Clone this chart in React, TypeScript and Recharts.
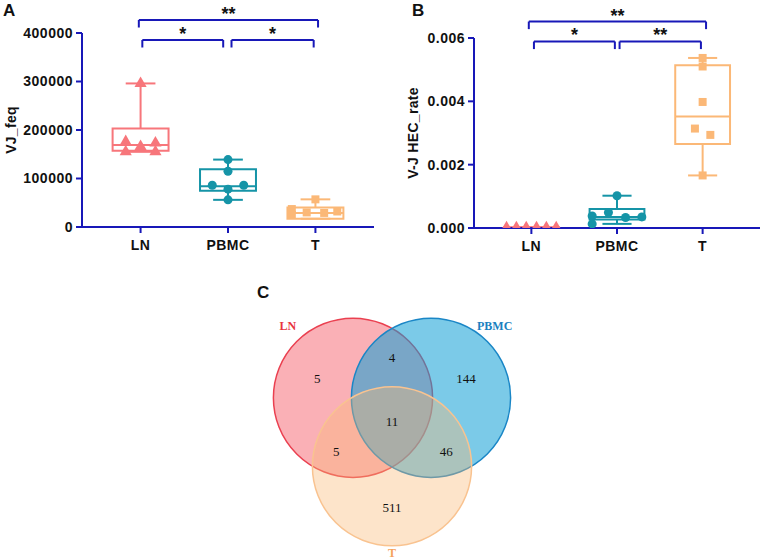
import React from 'react';
import { ScatterChart, Scatter, XAxis, YAxis, ZAxis, ReferenceArea, ReferenceLine, Label } from 'recharts';

const groups = ['LN', 'PBMC', 'T'];

// panel A: VJ_feq
const feqLN = [296000, 176000, 173000, 166000, 155000, 155000];
const feqPBMC = [139000, 115000, 86000, 86000, 78000, 56000];
const feqT = [57000, 37000, 32000, 30000, 29000, 25000];
const feqLNx = [0, -0.17, 0.17, 0, -0.17, 0.17];
const feqPBMCx = [0, 0, -0.18, 0.18, 0, 0];
const feqTx = [0, -0.27, 0.25, -0.1, 0.1, -0.27];
// min, q1, median, q3, max
const feqBoxLN = [155000, 157000, 169000, 203000, 296000];
const feqBoxPBMC = [56000, 75000, 84000, 119000, 139000];
const feqBoxT = [17000, 17000, 29000, 40000, 57000];
const feqTicks = [0, 100000, 200000, 300000, 400000];
const feqBracketFrom = [-0.02, 0.02, 1.04];
const feqBracketTo = [2.03, 0.945, 1.98];
const feqBracketLevel = [426800, 385600, 385600];
const feqStars = ['**', '*', '*'];

// panel B: V-J HEC_rate
const rateLN = [0.00001, 0.00001, 0.00001, 0.00001, 0.00001, 0.00001];
const ratePBMC = [0.00102, 0.00049, 0.00038, 0.00033, 0.00035, 0.00013];
const rateT = [0.00537, 0.0051, 0.00398, 0.00314, 0.00294, 0.00166];
const rateLNx = [-0.29, -0.175, -0.06, 0.06, 0.175, 0.29];
const ratePBMCx = [0, -0.1, -0.29, 0.1, 0.29, -0.29];
const rateTx = [0, 0, 0, -0.09, 0.09, 0];
const rateBoxLN = [0, 0, 0.00001, 0.00002, 0.00002];
const rateBoxPBMC = [0.00013, 0.00027, 0.00035, 0.0006, 0.00102];
const rateBoxT = [0.00166, 0.00265, 0.00352, 0.00514, 0.00537];
const rateTicks = [0, 0.002, 0.004, 0.006];
const rateBracketFrom = [-0.03, 0.03, 1.03];
const rateBracketTo = [2.04, 0.975, 1.98];
const rateBracketLevel = [0.00652, 0.00589, 0.00589];
const rateStars = ['**', '*', '**'];

// panel C: venn
const vennSets = ['LN', 'PBMC', 'T'];
const vennCx = [-0.49, 0.49, 0];
const vennCy = [0.43, 0.43, -0.43];
const vennR = [1, 1, 1];
const vennNameX = [-1.31, 1.29, 0];
const vennNameY = [1.33, 1.33, -1.52];
const vennCounts = ['5', '4', '144', '11', '5', '46', '511'];
const vennCountX = [-0.94, 0, 0.93, 0, -0.7, 0.68, 0];
const vennCountY = [0.67, 0.94, 0.67, 0.13, -0.25, -0.25, -0.95];

const AXIS = '#1818b8';
const colors = ['#f7767b', '#1594a7', '#fbb877'];
const shapes = ['triangle', 'circle', 'square'];
const vennFill = ['#f5707a', '#0f9fd6', '#fbb874'];
const vennOpacity = [0.55, 0.55, 0.38];
const vennStroke = ['#ea4050', '#1a86c6', '#f9c390'];
const vennText = ['#e8343f', '#1a7fc0', '#f5a25c'];

const sans = '"Liberation Sans", Arial, sans-serif';
const serif = '"Liberation Serif", "Times New Roman", serif';
const tickStyle = { fill: '#111', fontSize: 14, fontWeight: 'bold', letterSpacing: 0.5 };

type PanelProps = {
  w: number; h: number; top: number; right: number; yAxisW: number; xAxisH: number;
  yMax: number; yTicks: number[]; fmt: (v: number) => string; yLabel: string; labelOffset: number;
  values: number[][]; offsets: number[][]; boxes: number[][];
  bFrom: number[]; bTo: number[]; bLevel: number[]; stars: string[]; drop: number;
};

function BoxPanel(p: PanelProps) {
  const half = 0.32;
  const cap = 0.17;
  return (
    <ScatterChart width={p.w} height={p.h} margin={{ top: p.top, right: p.right, left: 0, bottom: 0 }}>
      <XAxis type="number" dataKey="x" domain={[-0.67, 2.67]} ticks={[0, 1, 2]} allowDataOverflow
        tickFormatter={(v) => groups[Math.round(v)]} height={p.xAxisH}
        axisLine={{ stroke: AXIS, strokeWidth: 2 }} tickLine={{ stroke: AXIS, strokeWidth: 2 }}
        tickSize={6} tickMargin={7} tick={tickStyle} />
      <YAxis type="number" dataKey="y" domain={[0, p.yMax]} ticks={p.yTicks} allowDataOverflow
        tickFormatter={p.fmt} width={p.yAxisW}
        axisLine={{ stroke: AXIS, strokeWidth: 2 }} tickLine={{ stroke: AXIS, strokeWidth: 2 }}
        tickSize={6} tickMargin={3} tick={tickStyle}>
        <Label value={p.yLabel} angle={-90} position="insideLeft" offset={p.labelOffset}
          style={{ textAnchor: 'middle', fill: '#111', fontSize: 14, fontWeight: 'bold', letterSpacing: 0.3 }} />
      </YAxis>
      <ZAxis type="number" range={[85, 85]} />
      {p.boxes.map((b, i) => (
        <React.Fragment key={'box' + i}>
          <ReferenceLine segment={[{ x: i, y: b[3] }, { x: i, y: b[4] }]} stroke={colors[i]} strokeWidth={2} ifOverflow="visible" />
          <ReferenceLine segment={[{ x: i, y: b[0] }, { x: i, y: b[1] }]} stroke={colors[i]} strokeWidth={2} ifOverflow="visible" />
          <ReferenceLine segment={[{ x: i - cap, y: b[4] }, { x: i + cap, y: b[4] }]} stroke={colors[i]} strokeWidth={2} ifOverflow="visible" />
          <ReferenceLine segment={[{ x: i - cap, y: b[0] }, { x: i + cap, y: b[0] }]} stroke={colors[i]} strokeWidth={2} ifOverflow="visible" />
          <ReferenceArea x1={i - half} x2={i + half} y1={b[1]} y2={b[3]} fill="none" fillOpacity={0} stroke={colors[i]} strokeWidth={2} ifOverflow="visible" />
          <ReferenceLine segment={[{ x: i - half, y: b[2] }, { x: i + half, y: b[2] }]} stroke={colors[i]} strokeWidth={2} ifOverflow="visible" />
        </React.Fragment>
      ))}
      {p.values.map((vals, i) => (
        <Scatter key={'pts' + i} data={vals.map((v, j) => ({ x: i + p.offsets[i][j], y: v }))}
          shape={shapes[i] as any} fill={colors[i]} isAnimationActive={false} />
      ))}
      {p.bLevel.map((lv, k) => (
        <React.Fragment key={'br' + k}>
          <ReferenceLine segment={[{ x: p.bFrom[k], y: lv }, { x: p.bTo[k], y: lv }]} stroke={AXIS} strokeWidth={2} ifOverflow="visible"
            label={{ value: p.stars[k], position: 'top', offset: 0, fill: '#111', fontSize: 18, fontWeight: 'bold' }} />
          <ReferenceLine segment={[{ x: p.bFrom[k], y: lv }, { x: p.bFrom[k], y: lv - p.drop }]} stroke={AXIS} strokeWidth={2} ifOverflow="visible" />
          <ReferenceLine segment={[{ x: p.bTo[k], y: lv }, { x: p.bTo[k], y: lv - p.drop }]} stroke={AXIS} strokeWidth={2} ifOverflow="visible" />
        </React.Fragment>
      ))}
    </ScatterChart>
  );
}

const VW = 398;
const VH = 269;
const vx: [number, number] = [-2.5, 2.5];
const vy: [number, number] = [-1.595, 1.784];
const PX = VW / (vx[1] - vx[0]);

function Venn() {
  const circles = vennSets.map((_, i) => ({ x: vennCx[i], y: vennCy[i], i }));
  const names = vennSets.map((_, i) => ({ x: vennNameX[i], y: vennNameY[i], i }));
  const counts = vennCounts.map((_, i) => ({ x: vennCountX[i], y: vennCountY[i], i }));
  return (
    <ScatterChart width={VW} height={VH} margin={{ top: 0, right: 0, left: 0, bottom: 0 }}>
      <XAxis type="number" dataKey="x" domain={vx} hide allowDataOverflow />
      <YAxis type="number" dataKey="y" domain={vy} hide allowDataOverflow />
      <Scatter data={circles} isAnimationActive={false}
        shape={(s: any) => (
          <circle cx={s.cx} cy={s.cy} r={vennR[s.payload.i] * PX} fill={vennFill[s.payload.i]}
            fillOpacity={vennOpacity[s.payload.i]} stroke={vennStroke[s.payload.i]} strokeWidth={1.5} />
        )} />
      <Scatter data={counts} isAnimationActive={false}
        shape={(s: any) => (
          <text x={s.cx} y={s.cy} textAnchor="middle" dominantBaseline="central"
            style={{ fontFamily: serif, fontSize: 13 }} fill="#111">{vennCounts[s.payload.i]}</text>
        )} />
      <Scatter data={names} isAnimationActive={false}
        shape={(s: any) => (
          <text x={s.cx} y={s.cy} textAnchor="middle" dominantBaseline="central"
            style={{ fontFamily: serif, fontSize: 12, fontWeight: 'bold' }} fill={vennText[s.payload.i]}>{vennSets[s.payload.i]}</text>
        )} />
    </ScatterChart>
  );
}

export default function App() {
  return (
    <div style={{ position: 'absolute', left: 0, top: 0, width: 765, height: 559, background: '#fff', fontFamily: sans }}>
      <div style={{ position: 'absolute', left: 0, top: 0 }}>
        <BoxPanel w={380} h={260} top={33} right={6} yAxisW={82} xAxisH={33}
          yMax={400000} yTicks={feqTicks} fmt={(v) => String(v)} yLabel="VJ_feq" labelOffset={11}
          values={[feqLN, feqPBMC, feqT]} offsets={[feqLNx, feqPBMCx, feqTx]} boxes={[feqBoxLN, feqBoxPBMC, feqBoxT]}
          bFrom={feqBracketFrom} bTo={feqBracketTo} bLevel={feqBracketLevel} stars={feqStars} drop={15500} />
      </div>
      <div style={{ position: 'absolute', left: 380, top: 0 }}>
        <BoxPanel w={385} h={260} top={38} right={5} yAxisW={94} xAxisH={32}
          yMax={0.006} yTicks={rateTicks} fmt={(v) => v.toFixed(3)} yLabel="V-J HEC_rate" labelOffset={33}
          values={[rateLN, ratePBMC, rateT]} offsets={[rateLNx, ratePBMCx, rateTx]} boxes={[rateBoxLN, rateBoxPBMC, rateBoxT]}
          bFrom={rateBracketFrom} bTo={rateBracketTo} bLevel={rateBracketLevel} stars={rateStars} drop={0.00024} />
      </div>
      <div style={{ position: 'absolute', left: 193, top: 290 }}>
        <Venn />
      </div>
      <svg width={765} height={559} style={{ position: 'absolute', left: 0, top: 0, pointerEvents: 'none' }}>
        <text x={3} y={16} style={{ fontFamily: sans, fontSize: 17, fontWeight: 'bold' }} fill="#111">A</text>
        <text x={412} y={16} style={{ fontFamily: sans, fontSize: 17, fontWeight: 'bold' }} fill="#111">B</text>
        <text x={257} y={298} style={{ fontFamily: sans, fontSize: 17, fontWeight: 'bold' }} fill="#111">C</text>
      </svg>
    </div>
  );
}
